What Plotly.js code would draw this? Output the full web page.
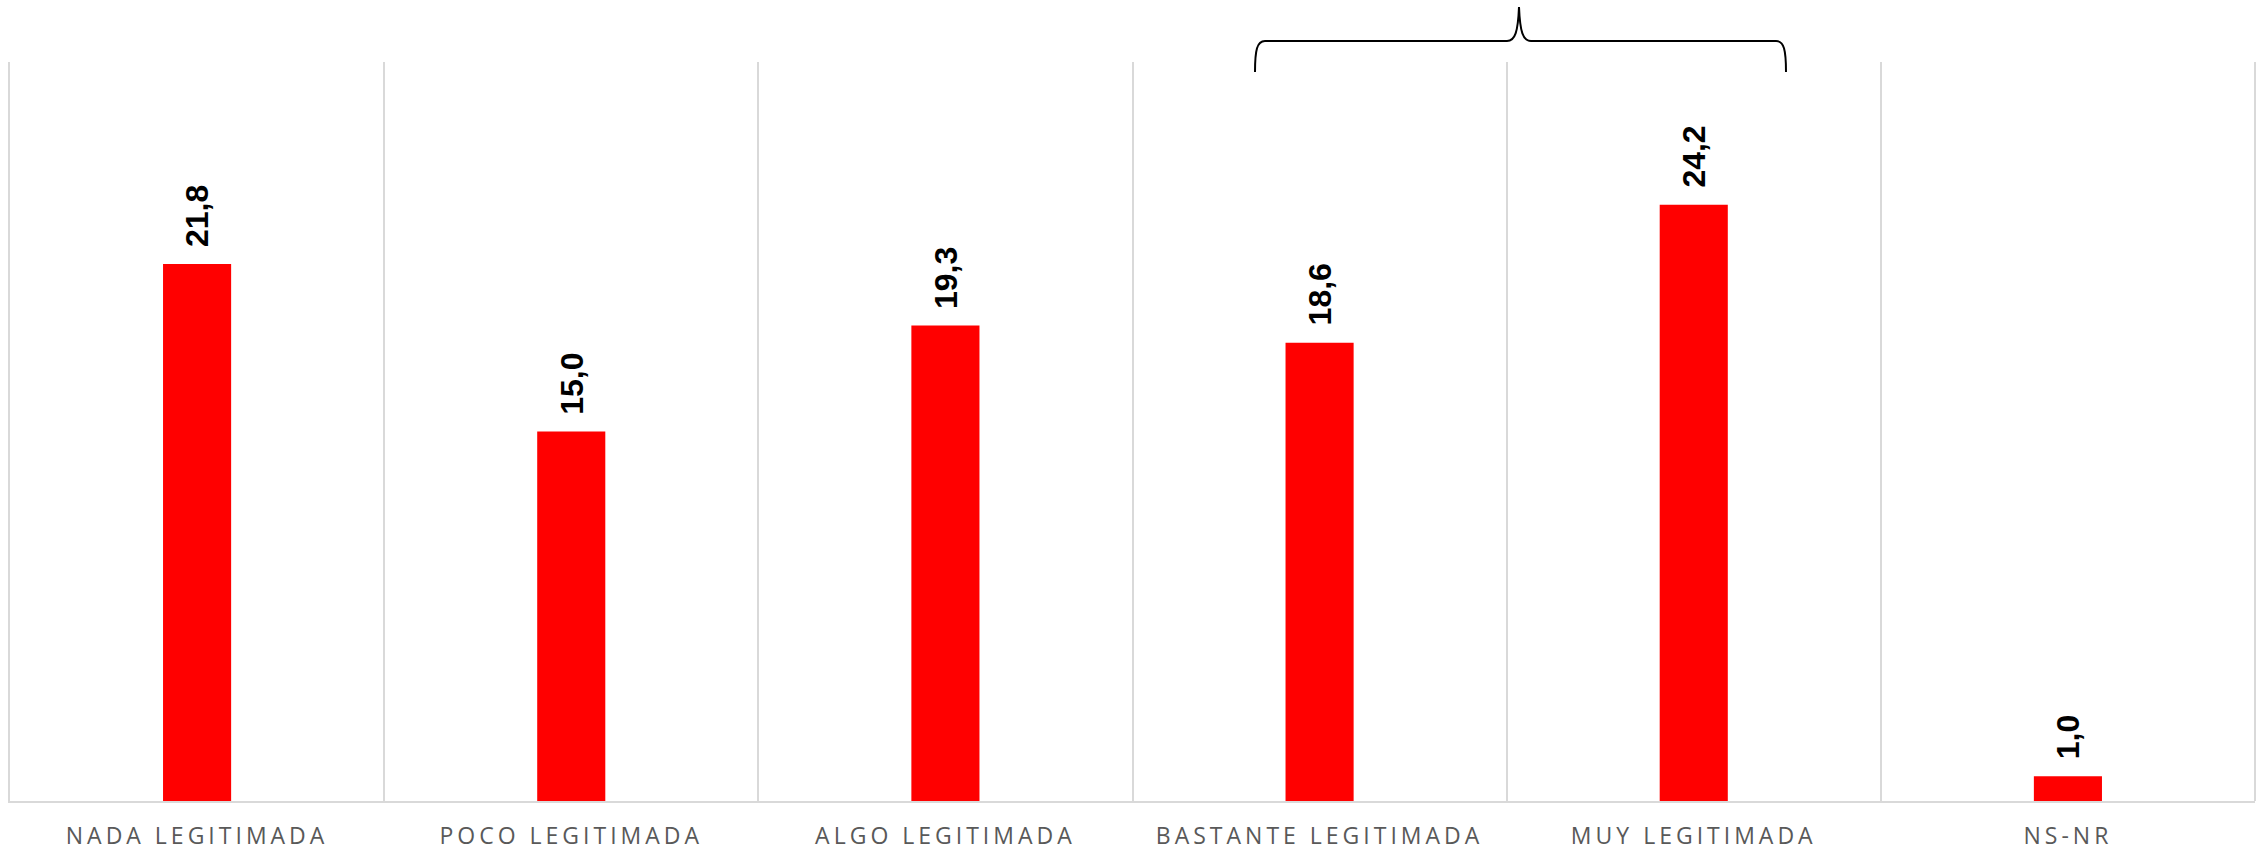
<!DOCTYPE html>
<html>
<head>
<meta charset="utf-8">
<script src="https://cdn.plot.ly/plotly-3.0.1.min.js"></script>
<style>
  html, body { margin: 0; padding: 0; background: #fff; }
  #chart { width: 2260px; height: 850px; }
  .xtick text { letter-spacing: 4px; }
</style>
</head>
<body>
<div id="chart"></div>
<script>
const categories = ["NADA LEGITIMADA", "POCO LEGITIMADA", "ALGO LEGITIMADA", "BASTANTE LEGITIMADA", "MUY LEGITIMADA", "NS-NR"];
const values = [21.8, 15.0, 19.3, 18.6, 24.2, 1.0];
const valueLabels = values.map(v => v.toFixed(1).replace('.', ','));

const W = 2260, H = 850;
const M = {l: 10, r: 5, t: 62, b: 49};
const pw = W - M.l - M.r, ph = H - M.t - M.b;
const px = x => ((x - M.l) / pw).toFixed(5);
const py = y => ((H - M.b - y) / ph).toFixed(5);

// brace drawn in pixel space, converted to paper coords
const bracePath =
  `M ${px(1255)},${py(72)} C ${px(1255)},${py(50)} ${px(1257)},${py(41)} ${px(1265)},${py(41)} ` +
  `L ${px(1507)},${py(41)} C ${px(1515)},${py(41)} ${px(1518)},${py(32)} ${px(1519)},${py(7)} ` +
  `C ${px(1520)},${py(32)} ${px(1523)},${py(41)} ${px(1531)},${py(41)} ` +
  `L ${px(1776)},${py(41)} C ${px(1784)},${py(41)} ${px(1786)},${py(50)} ${px(1786)},${py(72)}`;

const trace = {
  type: 'bar',
  x: categories,
  y: values,
  marker: {color: '#ff0000'},
  hoverinfo: 'skip'
};

const annotations = categories.map((c, i) => ({
  x: c, y: values[i], xref: 'x', yref: 'y',
  text: valueLabels[i],
  textangle: -90,
  showarrow: false,
  xanchor: 'center', yanchor: 'bottom',
  yshift: 15,
  font: {family: 'Liberation Sans, Arial, sans-serif', size: 32, color: '#000', weight: 'bold'}
}));

const layout = {
  width: W, height: H,
  margin: M,
  paper_bgcolor: '#fff', plot_bgcolor: '#fff',
  showlegend: false,
  bargap: 0.818,
  xaxis: {
    type: 'category',
    tickson: 'boundaries',
    showgrid: true, gridcolor: '#d9d9d9', gridwidth: 2,
    showline: true, linecolor: '#d9d9d9', linewidth: 2,
    ticks: '', ticklabelstandoff: 13,
    tickfont: {family: 'Open Sans, sans-serif', size: 23, color: '#595959'},
    fixedrange: true
  },
  yaxis: {
    range: [0, 30],
    showgrid: false, zeroline: false,
    showticklabels: false, ticks: '',
    showline: true, linecolor: '#d9d9d9', linewidth: 2,
    fixedrange: true
  },
  annotations: annotations,
  shapes: [
    {type: 'line', xref: 'paper', yref: 'paper', x0: 1, x1: 1, y0: 0, y1: 1,
     line: {color: '#d9d9d9', width: 2}},
    {type: 'path', xref: 'paper', yref: 'paper', path: bracePath,
     line: {color: '#000', width: 2}}
  ]
};

Plotly.newPlot('chart', [trace], layout, {displayModeBar: false, staticPlot: true});
</script>
</body>
</html>
